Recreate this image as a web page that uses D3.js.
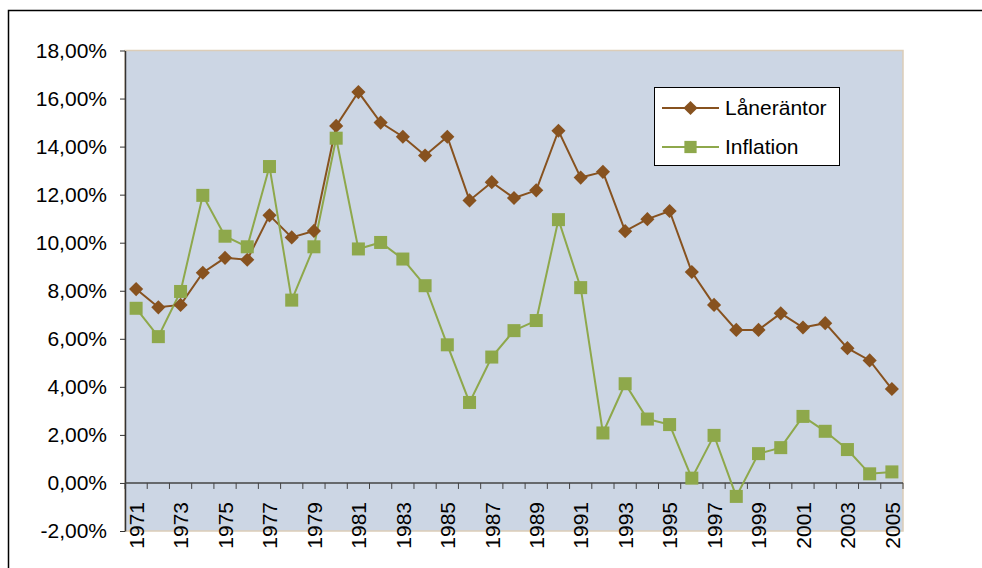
<!DOCTYPE html>
<html>
<head>
<meta charset="utf-8">
<script src="https://cdn.jsdelivr.net/npm/d3@7"></script>
<style>
  body { margin: 0; background: #fff; }
  svg text { font-family: "Liberation Sans", Arial, sans-serif; fill: #000; }
</style>
</head>
<body>
<svg id="chart" width="982" height="568"></svg>
<script>
// data
const years = d3.range(1971, 2006)
const laneRantor = [8.07, 7.31, 7.41, 8.75, 9.37, 9.29, 11.14, 10.22, 10.49, 14.86,
  16.27, 15.0, 14.41, 13.63, 14.41, 11.76, 12.52, 11.86, 12.18, 14.66,
  12.71, 12.95, 10.48, 10.98, 11.32, 8.78, 7.41, 6.37, 6.37, 7.06,
  6.47, 6.65, 5.61, 5.10, 3.91]
const inflation = [7.27, 6.09, 7.97, 11.97, 10.27, 9.83, 13.17, 7.61, 9.83, 14.35,
  9.74, 10.01, 9.32, 8.21, 5.75, 3.35, 5.24, 6.34, 6.76, 10.96,
  8.13, 2.08, 4.13, 2.66, 2.43, 0.2, 1.98, -0.56, 1.22, 1.47,
  2.77, 2.15, 1.39, 0.38, 0.46]
const seriesNames = ['Låneräntor', 'Inflation']
const yTicks = [-2, 0, 2, 4, 6, 8, 10, 12, 14, 16, 18]

const brown = '#87521f'
const green = '#8ea84b'

const svg = d3.select('#chart')

// outer chart border
svg.append('rect')
  .attr('x', 8.5).attr('y', 10.5)
  .attr('width', 1000).attr('height', 600)
  .attr('fill', 'none')
  .attr('stroke', '#000')
  .attr('stroke-width', 1.5)

const plotLeft = 125, plotRight = 903, plotTop = 50.5, plotBottom = 531

const x = d3.scaleBand()
  .domain(years)
  .range([plotLeft, plotRight])
  .padding(0)

const y = d3.scaleLinear()
  .domain([-2, 18])
  .range([plotBottom, plotTop])

const cx = (d) => x(d) + x.bandwidth() / 2

// plot area
svg.append('rect')
  .attr('x', plotLeft).attr('y', plotTop)
  .attr('width', plotRight - plotLeft).attr('height', plotBottom - plotTop)
  .attr('fill', '#ccd6e4')
  .attr('stroke', '#dccdb8')
  .attr('stroke-width', 1.5)

const sv = d3.formatLocale({ decimal: ',', thousands: ' ', grouping: [3], currency: ['', ' kr'], minus: '-' })
const fmt = sv.format('.2f')

// y axis
const yAxis = svg.append('g')
  .attr('transform', `translate(${plotLeft}, 0)`)
  .call(d3.axisLeft(y)
    .tickValues(yTicks)
    .tickSize(5)
    .tickSizeOuter(0)
    .tickPadding(13)
    .tickFormat((d) => fmt(d) + '%'))
yAxis.select('.domain').attr('stroke', '#333').attr('stroke-width', 1.5)
yAxis.selectAll('.tick line').attr('stroke', '#333')
yAxis.selectAll('text')
  .style('font-size', '21px')
  .style('font-family', '"Liberation Sans", Arial, sans-serif')
  .attr('fill', '#000')

// x axis at zero
const xAxis = svg.append('g')
xAxis.append('line')
  .attr('x1', plotLeft).attr('x2', plotRight)
  .attr('y1', y(0)).attr('y2', y(0))
  .attr('stroke', '#444')
  .attr('stroke-width', 1.5)
xAxis.selectAll('.xtick')
  .data(years.concat([null]))
  .enter()
  .append('line')
  .attr('x1', (d) => d === null ? plotRight : x(d))
  .attr('x2', (d) => d === null ? plotRight : x(d))
  .attr('y1', y(0))
  .attr('y2', y(0) + 6)
  .attr('stroke', '#444')

xAxis.selectAll('.xlabel')
  .data(years.filter((d, i) => i % 2 === 0))
  .enter()
  .append('text')
  .attr('transform', (d) => `translate(${cx(d)}, 502) rotate(-90)`)
  .attr('text-anchor', 'end')
  .attr('dy', '0.37em')
  .style('font-size', '21px')
  .text((d) => d)

// series
const line = d3.line()
  .x((d, i) => cx(years[i]))
  .y((d) => y(d))

svg.append('path')
  .datum(laneRantor)
  .attr('d', line)
  .attr('fill', 'none')
  .attr('stroke', brown)
  .attr('stroke-width', 2)

svg.append('path')
  .datum(inflation)
  .attr('d', line)
  .attr('fill', 'none')
  .attr('stroke', green)
  .attr('stroke-width', 2)

const diamond = d3.symbol().type(d3.symbolSquare).size(100)

svg.selectAll('.dia')
  .data(laneRantor)
  .enter()
  .append('path')
  .attr('d', diamond)
  .attr('transform', (d, i) => `translate(${cx(years[i])}, ${y(d)}) rotate(45)`)
  .attr('fill', brown)

svg.selectAll('.sq')
  .data(inflation)
  .enter()
  .append('rect')
  .attr('x', (d, i) => cx(years[i]) - 6.5)
  .attr('y', (d) => y(d) - 6.5)
  .attr('width', 13)
  .attr('height', 13)
  .attr('fill', green)

// legend
const legend = svg.append('g')
legend.append('rect')
  .attr('x', 654.5).attr('y', 87.5)
  .attr('width', 185).attr('height', 78)
  .attr('fill', '#fff')
  .attr('stroke', '#000')
  .attr('stroke-width', 1)

const legRows = legend.selectAll('.row')
  .data(seriesNames)
  .enter()
  .append('g')
  .attr('transform', (d, i) => `translate(0, ${108 + i * 39})`)

legRows.append('line')
  .attr('x1', 662).attr('x2', 719)
  .attr('stroke', (d, i) => i === 0 ? brown : green)
  .attr('stroke-width', 2)

legRows.append('path')
  .attr('d', (d, i) => i === 0 ? diamond() : d3.symbol().type(d3.symbolSquare).size(150)())
  .attr('transform', (d, i) => `translate(690.5, 0) rotate(${i === 0 ? 45 : 0})`)
  .attr('fill', (d, i) => i === 0 ? brown : green)

legRows.append('text')
  .attr('x', 725)
  .attr('dy', '0.35em')
  .style('font-size', '21px')
  .text((d) => d)
</script>
</body>
</html>
